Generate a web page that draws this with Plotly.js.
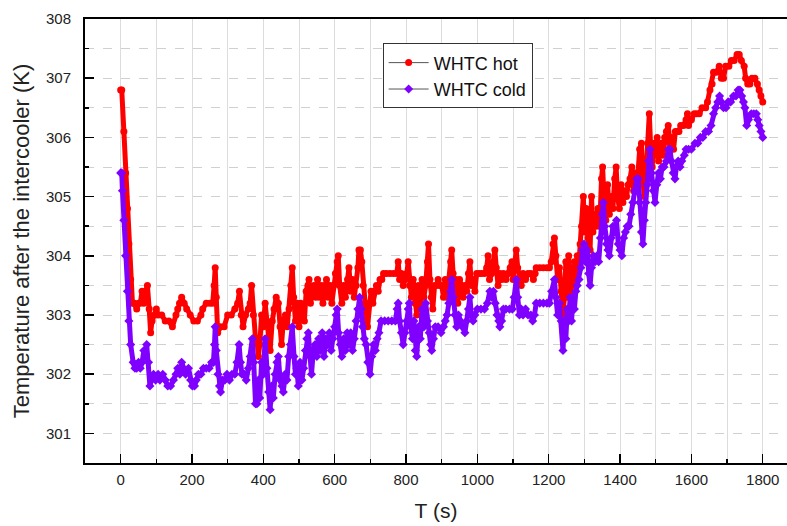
<!DOCTYPE html>
<html>
<head>
<meta charset="utf-8">
<script src="https://cdn.plot.ly/plotly-3.0.1.min.js"></script>
<style>html,body{margin:0;padding:0;background:#fff;}#chart{width:787px;height:526px;}</style>
</head>
<body>
<div id="chart"></div>
<script>
// WHTC hot: time (s) and temperature after the intercooler (K)
var tHot = [0,3,9,14,19,23,28,33,38,45,50,55,60,65,70,75,80,84,88,95,100,105,115,125,135,145,155,160,165,171,178,185,195,205,215,225,230,240,250,258,262,265,268,272,280,290,300,310,320,328,333,338,343,350,358,363,367,372,378,382,386,390,395,400,405,410,415,419,425,430,436,442,447,451,456,462,467,472,477,481,485,490,495,500,505,510,515,520,525,528,532,537,542,547,552,557,562,567,572,577,582,587,592,597,602,607,610,614,620,625,630,636,640,645,650,655,660,665,668,672,676,680,685,688,692,697,702,707,712,717,722,727,732,737,745,755,765,774,778,782,787,792,797,802,806,810,815,820,825,830,835,840,845,850,855,860,863,867,871,875,880,885,890,895,900,905,910,915,920,925,928,932,936,940,945,950,955,960,965,970,975,979,983,988,993,998,1005,1012,1020,1026,1030,1034,1040,1045,1049,1053,1058,1063,1068,1073,1080,1086,1092,1097,1100,1105,1109,1113,1118,1123,1128,1135,1142,1150,1157,1162,1165,1175,1185,1195,1202,1207,1212,1216,1220,1225,1230,1235,1240,1244,1248,1252,1256,1260,1264,1268,1272,1276,1280,1284,1288,1292,1297,1301,1305,1310,1316,1320,1324,1328,1333,1338,1343,1348,1351,1355,1360,1365,1370,1375,1380,1385,1389,1393,1398,1403,1408,1413,1418,1423,1428,1433,1438,1443,1448,1455,1460,1464,1468,1473,1478,1482,1486,1490,1495,1500,1504,1508,1512,1516,1520,1525,1530,1535,1540,1545,1550,1555,1560,1565,1570,1578,1585,1589,1592,1600,1608,1615,1622,1630,1640,1645,1652,1658,1662,1670,1678,1684,1690,1696,1705,1712,1720,1728,1734,1740,1748,1752,1758,1764,1770,1778,1785,1790,1795,1800];
var hot = [306.8,306.8,306.1,305.4,304.8,304.2,303.6,303.2,303.2,303.1,303.2,303.2,303.4,303.2,303.4,303.5,303.1,302.7,302.9,303.0,303.1,303.0,303.0,302.9,302.9,302.8,303.0,303.1,303.2,303.3,303.2,303.1,303.0,302.9,302.9,303.0,303.1,303.2,303.2,303.2,303.5,303.8,303.3,302.7,302.8,302.8,303.0,303.0,303.1,303.2,303.4,303.0,302.8,303.0,303.1,303.2,303.5,303.0,302.6,302.6,302.3,302.5,303.0,302.8,303.2,302.9,302.6,302.4,302.9,303.1,303.3,303.2,302.8,302.5,302.9,303.0,302.8,303.1,303.5,303.8,303.3,302.9,303.2,302.8,303.2,303.0,302.9,303.4,303.5,303.6,303.2,303.4,303.5,303.3,303.6,303.3,303.5,303.2,303.5,303.6,303.3,303.5,303.2,303.5,303.7,303.9,304.0,303.5,303.2,303.5,303.3,303.6,303.8,303.4,303.6,303.3,303.5,303.8,304.1,304.1,303.9,303.5,303.2,303.0,302.8,303.2,303.4,303.2,303.4,303.5,303.4,303.6,303.6,303.7,303.7,303.7,303.7,303.7,303.9,303.6,303.7,303.5,303.6,303.7,303.9,303.5,303.3,303.6,303.2,303.0,303.5,303.1,303.6,303.3,303.5,303.9,304.2,303.6,303.3,303.1,303.5,303.5,303.6,303.5,303.5,303.3,303.6,303.3,303.6,303.9,304.1,303.7,303.3,303.6,303.2,303.6,303.5,303.3,303.5,303.4,303.7,303.9,303.5,303.6,303.4,303.7,303.7,303.7,303.7,303.8,304.0,303.6,303.7,303.9,304.1,303.8,303.5,303.7,303.6,303.7,303.6,303.7,303.8,303.9,303.6,303.9,304.1,303.8,303.6,303.5,303.7,303.6,303.7,303.7,303.6,303.7,303.8,303.8,303.8,303.8,303.8,303.9,304.2,304.3,304.0,303.6,303.8,303.4,303.0,303.3,303.9,303.3,304.0,303.4,303.8,303.5,303.9,303.6,304.0,303.8,304.2,304.5,305.0,304.4,304.8,304.3,304.1,305.0,304.4,304.7,304.5,304.8,304.5,305.3,305.5,305.0,304.6,305.2,304.7,305.0,304.8,305.3,305.5,305.0,304.8,305.2,304.9,305.1,305.0,305.2,305.3,305.5,305.1,305.4,305.2,305.8,305.9,305.3,305.0,305.4,305.9,306.4,305.8,305.5,305.9,305.7,306.0,305.6,305.8,305.9,305.7,306.0,306.1,306.2,305.9,306.0,305.8,306.1,306.1,306.1,306.2,306.2,306.3,306.4,306.2,306.3,306.4,306.4,306.4,306.5,306.5,306.6,306.8,306.9,307.1,307.1,307.2,307.0,307.0,307.2,307.2,307.3,307.3,307.4,307.4,307.3,307.2,307.0,306.9,306.9,307.0,307.0,306.9,306.8,306.7,306.6];

// WHTC cold
var tCold = [0,3,5,9,14,19,23,28,35,40,45,50,55,60,65,70,73,78,82,86,92,98,105,110,118,125,132,140,148,155,160,166,171,176,182,190,196,201,207,212,218,225,232,240,248,255,260,263,265,268,273,277,280,285,292,298,305,312,320,326,332,336,340,347,352,358,363,369,373,378,382,386,390,395,400,405,410,415,419,423,428,433,438,442,447,452,456,461,466,471,476,481,486,490,494,498,503,508,513,518,522,526,531,535,540,545,550,555,560,565,570,575,580,585,590,595,600,604,607,611,616,620,625,630,635,640,645,650,655,660,665,670,674,678,683,688,693,699,704,709,714,719,724,730,740,750,760,770,775,778,782,787,792,797,802,806,809,813,818,822,826,830,835,840,845,850,855,860,865,869,872,877,882,890,898,905,910,915,920,925,928,932,937,942,947,952,958,965,970,975,979,983,988,993,1000,1010,1020,1028,1035,1040,1045,1050,1055,1060,1063,1068,1073,1080,1090,1098,1103,1109,1113,1118,1123,1128,1135,1142,1150,1155,1160,1165,1175,1185,1195,1202,1208,1216,1220,1225,1230,1235,1240,1244,1248,1252,1256,1260,1264,1268,1272,1276,1280,1285,1290,1295,1299,1303,1308,1312,1316,1320,1325,1330,1335,1340,1345,1350,1353,1357,1362,1366,1370,1375,1380,1385,1390,1395,1400,1405,1410,1415,1420,1425,1430,1436,1442,1447,1451,1455,1460,1464,1468,1472,1476,1480,1484,1488,1493,1498,1503,1508,1513,1518,1523,1530,1536,1540,1544,1549,1554,1558,1563,1568,1573,1580,1585,1592,1600,1610,1618,1625,1632,1640,1648,1655,1662,1668,1674,1679,1684,1690,1697,1703,1710,1718,1725,1731,1736,1741,1746,1750,1755,1760,1768,1775,1782,1786,1790,1795,1800];
var cold = [305.4,305.4,305.1,304.6,304.0,303.4,302.9,302.5,302.2,302.1,302.1,302.2,302.1,302.2,302.4,302.3,302.5,302.2,301.8,301.9,302.0,301.9,302.0,301.9,302.0,301.9,301.8,301.8,301.9,302.0,302.1,302.0,302.2,302.1,302.0,302.1,301.9,301.8,301.8,301.9,302.0,302.0,302.1,302.1,302.1,302.2,302.2,302.5,302.8,302.4,302.0,301.8,301.7,301.9,301.9,302.0,301.9,302.0,302.0,302.2,302.5,302.2,302.0,302.0,301.9,302.1,302.3,302.6,302.2,301.5,301.5,301.9,301.6,302.2,302.0,302.6,302.1,301.7,301.4,301.8,301.6,302.0,302.2,302.3,301.9,301.8,301.7,302.0,301.9,302.3,302.5,302.8,302.3,302.0,302.1,301.8,302.2,301.9,302.1,302.4,302.6,302.7,302.3,302.0,302.4,302.5,302.3,302.6,302.4,302.7,302.3,302.6,302.5,302.7,302.4,302.6,302.8,303.0,303.1,302.7,302.5,302.3,302.6,302.4,302.7,302.5,302.7,302.4,302.6,302.9,303.1,303.3,303.1,302.8,302.6,302.5,302.2,302.0,302.3,302.5,302.4,302.6,302.7,302.9,302.9,302.9,302.9,302.9,303.1,303.2,302.9,302.7,302.5,302.7,302.9,303.1,303.2,302.8,302.6,302.9,302.4,302.3,302.8,302.6,303.1,302.8,303.2,302.9,302.7,302.5,302.4,302.6,302.8,302.8,302.7,302.8,302.9,303.0,303.2,303.4,303.6,303.3,303.0,302.8,303.0,302.9,302.8,302.7,302.9,303.1,303.3,303.0,302.9,303.0,303.1,303.1,303.1,303.2,303.4,303.3,303.4,303.2,303.0,302.9,302.8,302.9,303.1,303.1,303.1,303.1,303.3,303.6,303.3,303.0,303.1,303.0,303.1,303.0,303.0,302.9,303.0,303.2,303.2,303.2,303.2,303.2,303.4,303.6,303.3,303.0,303.2,302.9,302.4,302.9,302.6,303.1,302.9,303.3,302.9,303.3,303.1,303.4,303.5,303.6,303.8,304.1,304.2,303.9,304.1,303.7,303.5,303.8,304.0,303.9,304.0,303.9,304.3,304.7,304.9,304.5,304.2,304.1,304.0,304.3,304.5,304.4,304.6,304.2,304.1,304.0,304.3,304.4,304.5,304.5,304.7,304.9,305.1,305.3,305.3,304.9,304.4,304.2,304.6,304.9,305.2,305.6,305.8,305.4,305.1,304.9,305.2,305.4,305.3,305.5,305.5,305.6,305.8,305.8,305.6,305.4,305.3,305.5,305.6,305.5,305.6,305.7,305.8,305.8,305.8,305.9,305.9,306.0,306.0,306.1,306.1,306.2,306.4,306.5,306.6,306.7,306.6,306.5,306.5,306.6,306.6,306.7,306.7,306.8,306.8,306.7,306.6,306.5,306.2,306.3,306.4,306.4,306.4,306.3,306.2,306.1,306.0];

var seriesNames = ['WHTC hot', 'WHTC cold'];
var xTickVals = [0,200,400,600,800,1000,1200,1400,1600,1800];
var yTickVals = [301,302,303,304,305,306,307,308];

var RED = '#ff0000', PURPLE = '#7f00ff', CONNECT = '#555555';
var FONT = 'Arial, "Liberation Sans", Helvetica, sans-serif';

var traces = [
  {x: tHot, y: hot, name: seriesNames[0], mode: 'lines+markers', line: {color: CONNECT, width: 1},
   marker: {color: RED, size: 7, symbol: 'circle'}},
  {x: tHot, y: hot, mode: 'lines', line: {color: RED, width: 5}, showlegend: false, hoverinfo: 'skip'},
  {x: tCold, y: cold, name: seriesNames[1], mode: 'lines+markers', line: {color: CONNECT, width: 1},
   marker: {color: PURPLE, size: 7, symbol: 'diamond'}},
  {x: tCold, y: cold, mode: 'lines', line: {color: PURPLE, width: 5}, showlegend: false, hoverinfo: 'skip'}
];

var layout = {
  width: 787, height: 526,
  margin: {l: 85, r: 0, t: 19, b: 63},
  paper_bgcolor: '#fff', plot_bgcolor: '#fff',
  font: {family: FONT, size: 15, color: '#222'},
  showlegend: true,
  legend: {x: 0.424, y: 0.945, xanchor: 'left', yanchor: 'top', itemwidth: 40,
           bgcolor: '#fff', bordercolor: '#333', borderwidth: 1,
           font: {family: FONT, size: 18, color: '#111'}, tracegroupgap: 0},
  xaxis: {
    range: [-100, 1868], tickmode: 'array', tickvals: xTickVals,
    ticks: 'inside', ticklen: 9, tickwidth: 1.5, tickcolor: '#000',
    showline: true, linecolor: '#000', linewidth: 2, mirror: true,
    showgrid: true, gridcolor: '#dcdcdc', gridwidth: 1,
    minor: {dtick: 100, tick0: 0, ticks: 'inside', ticklen: 4, tickcolor: '#000', showgrid: true, gridcolor: '#dcdcdc', gridwidth: 1},
    zeroline: false, ticklabelstandoff: 2,
    tickfont: {family: FONT, size: 15, color: '#222'},
    title: {text: 'T (s)', font: {family: FONT, size: 21, color: '#222'}, standoff: 16}
  },
  yaxis: {
    range: [300.5, 308], tickmode: 'array', tickvals: yTickVals,
    ticks: 'inside', ticklen: 9, tickwidth: 1.5, tickcolor: '#000',
    showline: true, linecolor: '#000', linewidth: 2, mirror: false,
    showgrid: true, gridcolor: '#d0d0d0', gridwidth: 1, griddash: 'dash',
    minor: {dtick: 0.5, tick0: 300.5, ticks: 'inside', ticklen: 4, tickcolor: '#000', showgrid: true, gridcolor: '#d0d0d0', gridwidth: 1, griddash: 'dash'},
    zeroline: false, ticklabelstandoff: 9,
    tickfont: {family: FONT, size: 15, color: '#222'},
    title: {text: 'Temperature after the intercooler (K)', font: {family: FONT, size: 22, color: '#222'}, standoff: 10}
  }
};

Plotly.newPlot('chart', traces, layout, {displayModeBar: false, staticPlot: true});
</script>
</body>
</html>
